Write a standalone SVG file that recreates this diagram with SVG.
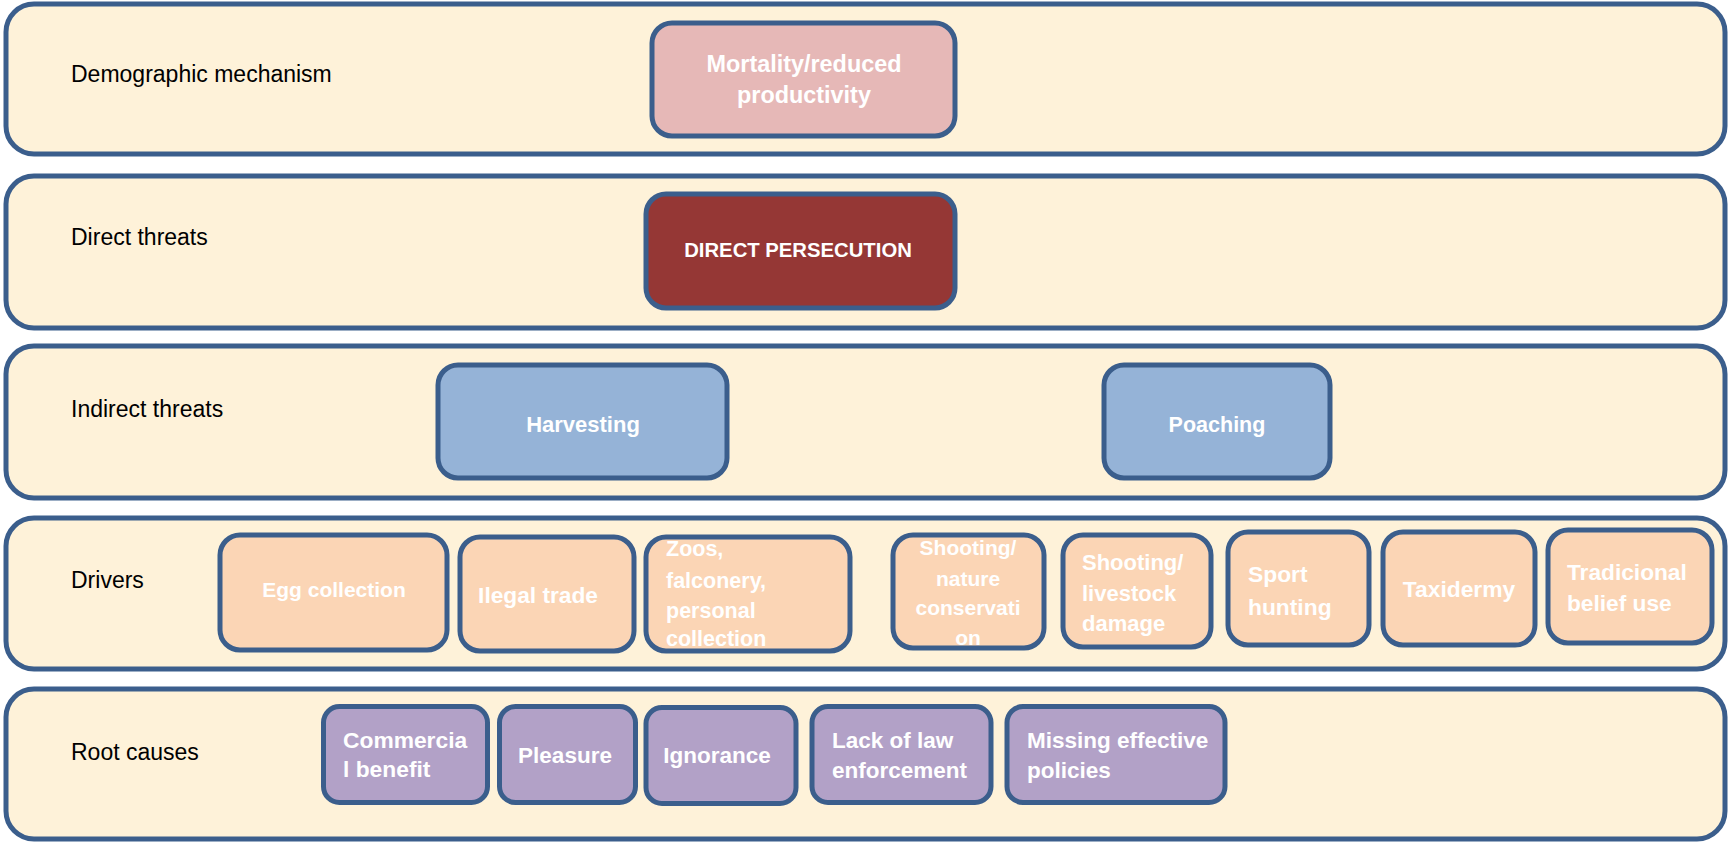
<svg xmlns="http://www.w3.org/2000/svg" width="1731" height="842" viewBox="0 0 1731 842">
<style>
.band{fill:#FEF2D9;stroke:#3B5E8C;stroke-width:5}
.lbl{font-family:"Liberation Sans",Arial,sans-serif;font-size:23px;fill:#000}
.n rect{stroke:#3B5E8C;stroke-width:5}
.n text{font-family:"Liberation Sans",Arial,sans-serif;font-size:22px;font-weight:bold;fill:#fff}
.c{text-anchor:middle}
.dm{fill:#E6B8B7}
.dt{fill:#953735}
.it{fill:#95B3D7}
.dr{fill:#FBD5B5}
.rc{fill:#B2A1C7}
</style>
<g id="bands">
<rect class="band" x="6" y="4" width="1719" height="150" rx="28"/>
<rect class="band" x="6" y="176" width="1719" height="152" rx="28"/>
<rect class="band" x="6" y="346" width="1719" height="152" rx="28"/>
<rect class="band" x="6" y="518" width="1719" height="151" rx="28"/>
<rect class="band" x="6" y="689" width="1719" height="150" rx="28"/>
</g>
<g id="labels">
<text class="lbl" x="71" y="82">Demographic mechanism</text>
<text class="lbl" x="71" y="245">Direct threats</text>
<text class="lbl" x="71" y="417">Indirect threats</text>
<text class="lbl" x="71" y="588">Drivers</text>
<text class="lbl" x="71" y="760">Root causes</text>
</g>
<g id="connectors"></g>
<g id="mortality" class="n"><rect class="dm" x="652" y="23" width="303" height="113" rx="20"/><text class="c" x="804" y="72" style="font-size:23.4px">Mortality/reduced</text><text class="c" x="804" y="103" style="font-size:23.4px">productivity</text></g>
<g id="direct-persecution" class="n"><rect class="dt" x="646" y="194" width="309" height="114" rx="20"/><text class="c" x="798" y="257" style="font-size:20.3px">DIRECT PERSECUTION</text></g>
<g id="harvesting" class="n"><rect class="it" x="438" y="365" width="289" height="113" rx="20"/><text class="c" x="583" y="432">Harvesting</text></g>
<g id="poaching" class="n"><rect class="it" x="1104" y="365" width="226" height="113" rx="20"/><text class="c" x="1217" y="432" style="font-size:21.5px">Poaching</text></g>
<g id="egg-collection" class="n"><rect class="dr" x="220" y="535" width="227" height="115" rx="20"/><text class="c" x="334" y="597" style="font-size:21px">Egg collection</text></g>
<g id="ilegal-trade" class="n"><rect class="dr" x="460" y="537" width="174" height="114" rx="20"/><text class="c" x="538" y="603" style="font-size:22.7px">Ilegal trade</text></g>
<g id="zoos" class="n" style="font-size:21.5px"><rect class="dr" x="646" y="537" width="204" height="114" rx="20"/><text x="666" y="556" style="font-size:21.5px">Zoos,</text><text x="666" y="588" style="font-size:21.5px">falconery,</text><text x="666" y="618" style="font-size:21.5px">personal</text><text x="666" y="646" style="font-size:21.5px">collection</text></g>
<g id="shooting-nature" class="n"><rect class="dr" x="893" y="535" width="151" height="113" rx="20"/><text class="c" x="968" y="555" style="font-size:21px">Shooting/</text><text class="c" x="968" y="586" style="font-size:21px">nature</text><text class="c" x="968" y="615" style="font-size:21px">conservati</text><text class="c" x="968" y="645" style="font-size:21px">on</text></g>
<g id="shooting-livestock" class="n"><rect class="dr" x="1063" y="535" width="148" height="112" rx="20"/><text x="1082" y="570">Shooting/</text><text x="1082" y="601">livestock</text><text x="1082" y="631">damage</text></g>
<g id="sport-hunting" class="n"><rect class="dr" x="1228" y="532" width="141" height="113" rx="20"/><text x="1248" y="582" style="font-size:22.8px">Sport</text><text x="1248" y="615" style="font-size:22.8px">hunting</text></g>
<g id="taxidermy" class="n"><rect class="dr" x="1383" y="532" width="152" height="113" rx="20"/><text class="c" x="1459" y="597" style="font-size:22.8px">Taxidermy</text></g>
<g id="tradicional" class="n"><rect class="dr" x="1548" y="530" width="164" height="113" rx="20"/><text x="1567" y="580" style="font-size:22.7px">Tradicional</text><text x="1567" y="611" style="font-size:22.7px">belief use</text></g>
<g id="commercial" class="n"><rect class="rc" x="323.5" y="706.5" width="164" height="96" rx="16"/><text x="343" y="748" style="font-size:22.8px">Commercia</text><text x="343" y="777" style="font-size:22.8px">l benefit</text></g>
<g id="pleasure" class="n"><rect class="rc" x="499.5" y="706.5" width="136" height="96" rx="16"/><text class="c" x="565" y="763" style="font-size:22.5px">Pleasure</text></g>
<g id="ignorance" class="n"><rect class="rc" x="646" y="707.5" width="150" height="96" rx="16"/><text class="c" x="717" y="763" style="font-size:22.5px">Ignorance</text></g>
<g id="lack-of-law" class="n"><rect class="rc" x="812" y="706.5" width="179" height="96" rx="16"/><text x="832" y="748" style="font-size:22.5px">Lack of law</text><text x="832" y="778" style="font-size:22.5px">enforcement</text></g>
<g id="missing-policies" class="n"><rect class="rc" x="1007" y="706.5" width="218" height="96" rx="16"/><text x="1027" y="748" style="font-size:22.5px">Missing effective</text><text x="1027" y="778" style="font-size:22.5px">policies</text></g>
</svg>
